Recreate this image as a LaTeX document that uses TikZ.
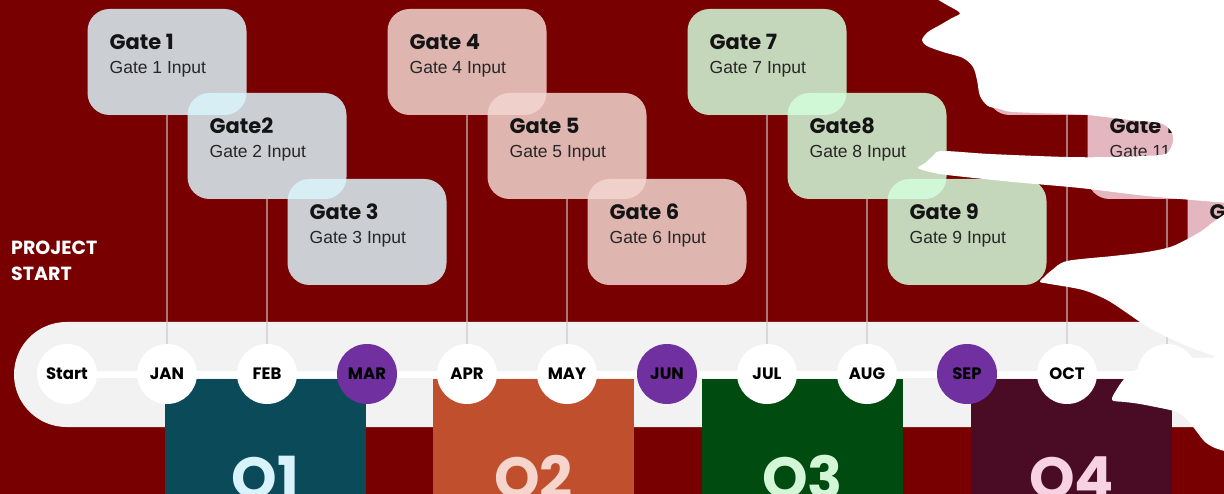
\documentclass[tikz,border=0pt]{standalone}
\usepackage{fontspec}
\setmainfont{Liberation Sans}
\newfontfamily\geofont{Poppins}
\usetikzlibrary{calc}

\definecolor{maroonbg}{RGB}{120,0,0}
\definecolor{bandgray}{RGB}{242,242,242}
\definecolor{monthpurple}{RGB}{112,48,160}
\definecolor{qonefill}{RGB}{11,74,89}
\definecolor{qoneink}{RGB}{216,243,250}
\definecolor{qtwofill}{RGB}{192,80,45}
\definecolor{qtwoink}{RGB}{245,213,204}
\definecolor{qthreefill}{RGB}{0,75,16}
\definecolor{qthreeink}{RGB}{211,247,214}
\definecolor{qfourfill}{RGB}{74,11,36}
\definecolor{qfourink}{RGB}{247,210,226}
\definecolor{gategray}{RGB}{218,244,250}
\definecolor{gatepink}{RGB}{242,213,207}
\definecolor{gategreen}{RGB}{211,253,219}
\definecolor{gaterose}{RGB}{247,215,226}
\definecolor{titleink}{RGB}{20,20,20}
\definecolor{subink}{RGB}{38,38,38}
\definecolor{connline}{RGB}{200,200,200}

% gate card and its two text lines
\newcommand\drawgate[4]{\node[gatebox, fill=#4] (#1) at (#2,#3) {};}
\newcommand\labelgate[3]{%
  \node[gatetitle] (#1t) at ($(#1.north west)+(22,41)$) {#2};
  \node[gatesub] (#1s) at ($(#1.north west)+(22,65)$) {#3};}

\begin{document}
\begin{tikzpicture}[x=1pt,y=-1pt,
  gatebox/.style={rectangle, rounded corners=22pt, minimum width=159pt,
    minimum height=106pt, inner sep=0pt, outer sep=0pt, fill opacity=0.85},
  gatetitle/.style={anchor=base west, inner sep=0pt, text=titleink,
    font=\geofont\bfseries\fontsize{21}{21}\selectfont},
  gatesub/.style={anchor=base west, inner sep=0pt, text=subink,
    font=\fontsize{17.5}{17.5}\selectfont},
  month/.style={circle, fill=white, minimum size=60pt, inner sep=0pt,
    outer sep=0pt, text=black, font=\geofont\bfseries\fontsize{16.5}{16.5}\selectfont},
  keymonth/.style={month, fill=monthpurple},
  qbox/.style={rectangle, anchor=north west, minimum width=201pt,
    minimum height=120pt, inner sep=0pt, outer sep=0pt},
  qlabel/.style={anchor=base, inner sep=0pt,
    font=\geofont\bfseries\fontsize{58}{58}\selectfont},
  conn/.style={draw=connline, draw opacity=0.6, line width=1.2pt},
  headline/.style={anchor=base west, inner sep=0pt, text=white,
    font=\geofont\bfseries\fontsize{19}{19}\selectfont},
  torn/.style={fill=white, draw=none}]

\useasboundingbox (0,0) rectangle (1224,494);
\clip (0,0) rectangle (1224,494);
\fill[maroonbg] (0,0) rectangle (1224,494);

% timeline band with the thin track through the months
\fill[bandgray, rounded corners=52.5pt] (14,322) rectangle (1320,427);
\fill[white] (67,371) rectangle (1230,378);

% quarter blocks
\node[qbox, fill=qonefill]   (q1) at (165,379) {};
\node[qbox, fill=qtwofill]   (q2) at (433,379) {};
\node[qbox, fill=qthreefill] (q3) at (702,379) {};
\node[qbox, fill=qfourfill]  (q4) at (971,379) {};
\node[qlabel, text=qoneink]   (q1l) at (265.5,498) {Q1};
\node[qlabel, text=qtwoink]   (q2l) at (533.5,498) {Q2};
\node[qlabel, text=qthreeink] (q3l) at (802.5,498) {Q3};
\node[qlabel, text=qfourink]  (q4l) at (1071.5,498) {Q4};

% month markers
\node[month]    (start) at (67,374)   {Start};
\node[month]    (jan)   at (167,374)  {JAN};
\node[month]    (feb)   at (267,374)  {FEB};
\node[keymonth] (mar)   at (367,374)  {MAR};
\node[month]    (apr)   at (467,374)  {APR};
\node[month]    (may)   at (567,374)  {MAY};
\node[keymonth] (jun)   at (667,374)  {JUN};
\node[month]    (jul)   at (767,374)  {JUL};
\node[month]    (aug)   at (867,374)  {AUG};
\node[keymonth] (sep)   at (967,374)  {SEP};
\node[month]    (oct)   at (1067,374) {OCT};
\node[month]    (nov)   at (1167,374) {};

% gate cards
\drawgate{g1}{167}{62}{gategray}
\drawgate{g2}{267}{146}{gategray}
\drawgate{g3}{367}{232}{gategray}
\drawgate{g4}{467}{62}{gatepink}
\drawgate{g5}{567}{146}{gatepink}
\drawgate{g6}{667}{232}{gatepink}
\drawgate{g7}{767}{62}{gategreen}
\drawgate{g8}{867}{146}{gategreen}
\drawgate{g9}{967}{232}{gategreen}
\drawgate{g10}{1067}{62}{gaterose}
\drawgate{g11}{1167}{146}{gaterose}
\drawgate{g12}{1267}{232}{gaterose}

% drop lines from cards to months
\draw[conn] (g1.south) -- (jan.north);
\draw[conn] (g2.south) -- (feb.north);
\draw[conn] (g4.south) -- (apr.north);
\draw[conn] (g5.south) -- (may.north);
\draw[conn] (g7.south) -- (jul.north);
\draw[conn] (g8.south) -- (aug.north);
\draw[conn] (g10.south) -- (oct.north);
\draw[conn] (g11.south) -- (nov.north);

\labelgate{g1}{Gate 1}{Gate 1 Input}
\labelgate{g2}{Gate2}{Gate 2 Input}
\labelgate{g3}{Gate 3}{Gate 3 Input}
\labelgate{g4}{Gate 4}{Gate 4 Input}
\labelgate{g5}{Gate 5}{Gate 5 Input}
\labelgate{g6}{Gate 6}{Gate 6 Input}
\labelgate{g7}{Gate 7}{Gate 7 Input}
\labelgate{g8}{Gate8}{Gate 8 Input}
\labelgate{g9}{Gate 9}{Gate 9 Input}
\labelgate{g11}{Gate 11}{Gate 11 Input}
\node[gatetitle] (g12t) at ($(g12.north west)+(22,41)$) {Gate 12};

\node[headline] (ps1) at (11,255) {PROJECT};
\node[headline] (ps2) at (11,281) {START};

% torn paper edge, upper part
\fill[torn] plot[smooth, tension=0.5] coordinates {
  (935,-2) (947,5) (960,13) (952,18) (940,25) (928,32) (922,40) (927,46)
  (943,52) (963,58) (973,67) (977,80) (980,96) (988,106) (1000,109)
  (1013,112) (1067,114) (1088,115) (1130,120) (1160,123) (1171,131)
  (1173,141) (1169,151) (1160,155) (1113,157) (1067,157) (990,154)
  (942,151) (933,156) (925,163) (918,168) (930,172) (947,175)
  (1013,182) (1080,188) (1147,196) (1228,203)}
  -- (1228,-2) -- cycle;

% torn paper edge, lower part
\fill[torn] plot[smooth, tension=0.5] coordinates {
  (1228,212) (1212,223) (1200,232) (1173,246) (1147,252) (1113,256)
  (1067,261) (1052,270) (1043,278) (1040,282) (1050,284) (1083,290)
  (1107,300) (1127,313) (1140,322) (1157,332) (1180,343) (1197,350)
  (1215,357) (1190,358) (1170,360) (1147,364) (1127,376) (1117,389)
  (1112,400) (1125,402) (1140,404) (1170,410) (1181,414) (1190,423)
  (1197,432) (1205,442) (1215,448) (1228,452)}
  -- (1228,212) -- cycle;
\end{tikzpicture}
\end{document}
